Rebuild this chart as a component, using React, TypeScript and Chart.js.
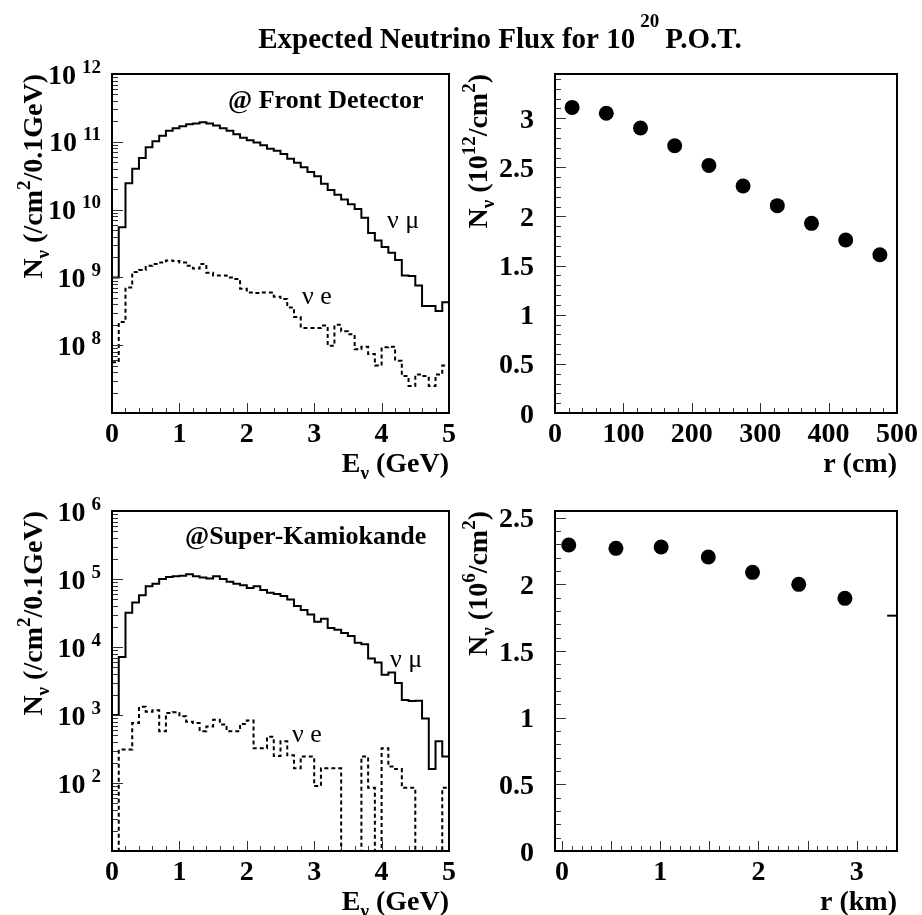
import React, { useEffect, useRef } from "react";
import { Chart, registerables } from "chart.js";

Chart.register(...registerables);

const W = 922;
const H = 915;
const SERIF = '"Liberation Serif", "DejaVu Serif", serif';

// ---------- data ----------
const BIN_WIDTH = 0.1; // GeV
const E_MIN = 0;
const E_MAX = 5;

// Front detector flux per 0.1 GeV bin (/cm^2/0.1GeV)
const FD_NUMU = [
  1.0e9, 5.5e9, 2.45e10, 4.0e10, 5.75e10, 8.3e10, 1.02e11, 1.23e11, 1.45e11, 1.58e11,
  1.7e11, 1.82e11, 1.86e11, 1.95e11, 1.86e11, 1.74e11, 1.58e11, 1.45e11, 1.29e11, 1.15e11,
  1.05e11, 9.8e10, 8.9e10, 7.9e10, 7.4e10, 6.6e10, 5.6e10, 4.9e10, 4.2e10, 3.6e10,
  3.1e10, 2.4e10, 1.95e10, 1.66e10, 1.41e10, 1.2e10, 1.02e10, 7.6e9, 4.5e9, 3.5e9,
  2.8e9, 2.3e9, 1.8e9, 1.07e9, 1.05e9, 7.6e8, 3.8e8, 3.8e8, 3.2e8, 4.3e8,
];
const FD_NUE = [
  5.6e7, 2.2e8, 7.1e8, 1.2e9, 1.29e9, 1.48e9, 1.58e9, 1.66e9, 1.78e9, 1.74e9,
  1.66e9, 1.48e9, 1.35e9, 1.58e9, 1.17e9, 1.07e9, 1.07e9, 1.0e9, 9.5e8, 6.8e8,
  6.0e8, 5.9e8, 6.0e8, 6.0e8, 5.2e8, 4.8e8, 3.6e8, 2.6e8, 1.8e8, 1.8e8,
  1.8e8, 1.95e8, 9.8e7, 2.0e8, 1.6e8, 1.45e8, 8.7e7, 9.5e7, 7.4e7, 5.0e7,
  9.3e7, 9.5e7, 5.9e7, 3.5e7, 2.5e7, 3.7e7, 3.5e7, 2.5e7, 3.7e7, 5.0e7,
];
// Super-Kamiokande flux per 0.1 GeV bin
const SK_NUMU = [
  1000, 7100, 3.2e4, 4.5e4, 5.75e4, 7.8e4, 8.5e4, 1.0e5, 1.07e5, 1.1e5,
  1.12e5, 1.17e5, 1.1e5, 1.05e5, 1.02e5, 1.1e5, 1.0e5, 9.1e4, 8.5e4, 8.1e4,
  7.4e4, 7.8e4, 6.9e4, 6.3e4, 6.0e4, 5.6e4, 5.0e4, 4.0e4, 3.5e4, 3.0e4,
  2.35e4, 2.6e4, 1.9e4, 1.8e4, 1.6e4, 1.45e4, 1.15e4, 1.1e4, 6800, 5900,
  3900, 4200, 2950, 1660, 1600, 1620, 890, 160, 410, 245,
];
const SK_NUE = [
  0, 310, 310, 760, 1320, 1120, 1170, 575, 1070, 1100,
  955, 795, 760, 575, 675, 850, 725, 575, 575, 740,
  830, 325, 325, 480, 250, 410, 255, 165, 245, 245,
  90, 165, 165, 165, 0, 0, 0, 245, 85, 0,
  325, 175, 160, 85, 85, 0, 0, 0, 0, 85,
];

// radial profiles
const FD_R_CM = [25, 75, 125, 175, 225, 275, 325, 375, 425, 475];
const FD_FLUX = [3.11, 3.05, 2.9, 2.72, 2.52, 2.31, 2.11, 1.93, 1.76, 1.61]; // 10^12/cm^2
const SK_R_KM = [0.07, 0.55, 1.01, 1.49, 1.94, 2.41, 2.88];
const SK_FLUX = [2.295, 2.27, 2.28, 2.205, 2.09, 2.0, 1.895]; // 10^6/cm^2
const SK_STRAY_R = [3.31, 3.42];
const SK_STRAY_FLUX = [1.765, 1.765];

// tick labels
const E_TICKS = [0, 1, 2, 3, 4, 5];
const R_CM_TICKS = [0, 100, 200, 300, 400, 500];
const R_KM_TICKS = [0, 1, 2, 3];
const FD_LOG_LABELS = [8, 9, 10, 11, 12];
const SK_LOG_LABELS = [2, 3, 4, 5, 6];
const FD_FLUX_TICKS = [0, 0.5, 1, 1.5, 2, 2.5, 3];
const SK_FLUX_TICKS = [0, 0.5, 1, 1.5, 2, 2.5];

// ---------- helpers ----------
type Part = { t: string; size: number; bold?: boolean; dx?: number; dy?: number };
type TextItem = { parts: Part[]; x: number; y: number; align: "left" | "right" | "center"; angle?: number };

const font = (p: Part) => `${p.bold === false ? "normal" : "bold"} ${p.size}px ${SERIF}`;

function richWidth(ctx: CanvasRenderingContext2D, parts: Part[]) {
  let w = 0;
  for (const p of parts) {
    ctx.font = font(p);
    w += ctx.measureText(p.t).width + (p.dx || 0);
  }
  return w;
}

function drawRich(ctx: CanvasRenderingContext2D, item: TextItem) {
  ctx.save();
  ctx.translate(item.x, item.y);
  if (item.angle) ctx.rotate(item.angle);
  const w = richWidth(ctx, item.parts);
  let cx = item.align === "right" ? -w : item.align === "center" ? -w / 2 : 0;
  ctx.textAlign = "left";
  ctx.textBaseline = "alphabetic";
  ctx.fillStyle = "#000";
  for (const p of item.parts) {
    ctx.font = font(p);
    cx += p.dx || 0;
    ctx.fillText(p.t, cx, p.dy || 0);
    cx += ctx.measureText(p.t).width;
  }
  ctx.restore();
}

function range(a: number, b: number, step: number) {
  const out: number[] = [];
  const n = Math.round((b - a) / step);
  for (let i = 0; i <= n; i++) out.push(+(a + i * step).toFixed(6));
  return out;
}

function logTicks(minExp: number, maxExp: number) {
  const major: number[] = [];
  const minor: number[] = [];
  for (let e = minExp; e <= maxExp; e++) {
    major.push(Math.pow(10, e));
    if (e < maxExp) for (let k = 2; k <= 9; k++) minor.push(k * Math.pow(10, e));
  }
  return { major, minor };
}

function histPoints(values: number[], floor: number) {
  const pts = values.map((v, i) => ({ x: E_MIN + i * BIN_WIDTH, y: v > 0 ? v : floor }));
  const last = values[values.length - 1];
  pts.push({ x: E_MIN + values.length * BIN_WIDTH, y: last > 0 ? last : floor });
  return pts;
}

const TICK_FONT = 28;
const SUP_FONT = 19;

type AxisOpts = {
  xMajor: number[];
  xMinor: number[];
  xLabels: { v: number; text: string }[];
  yMajor: number[];
  yMinor: number[];
  yLabels: { v: number; parts: Part[] }[];
  yLabelRight: number;
  texts: TextItem[];
};

const rootAxes = {
  id: "rootAxes",
  afterDatasetsDraw(chart: any, _args: any, o: AxisOpts) {
    const { ctx, chartArea: a, scales } = chart;
    const xs = scales.x;
    const ys = scales.y;
    ctx.save();
    // inner ticks
    ctx.strokeStyle = "#333";
    ctx.lineWidth = 1;
    ctx.beginPath();
    const xt = (v: number, len: number) => {
      const px = Math.round(xs.getPixelForValue(v)) + 0.5;
      ctx.moveTo(px, a.bottom);
      ctx.lineTo(px, a.bottom - len);
    };
    const yt = (v: number, len: number) => {
      const py = Math.round(ys.getPixelForValue(v)) + 0.5;
      ctx.moveTo(a.left, py);
      ctx.lineTo(a.left + len, py);
    };
    o.xMinor.forEach((v) => xt(v, 5));
    o.xMajor.forEach((v) => xt(v, 10));
    o.yMinor.forEach((v) => yt(v, 6));
    o.yMajor.forEach((v) => yt(v, 11));
    ctx.stroke();
    // frame
    ctx.strokeStyle = "#000";
    ctx.lineWidth = 2;
    ctx.strokeRect(a.left, a.top, a.right - a.left, a.bottom - a.top);
    // x labels
    ctx.fillStyle = "#000";
    ctx.textAlign = "center";
    ctx.textBaseline = "alphabetic";
    ctx.font = `bold ${TICK_FONT}px ${SERIF}`;
    for (const l of o.xLabels) {
      ctx.fillText(l.text, xs.getPixelForValue(l.v), a.bottom + 29);
    }
    // y labels
    for (const l of o.yLabels) {
      drawRich(ctx, { parts: l.parts, x: o.yLabelRight, y: ys.getPixelForValue(l.v) + 9.5, align: "right" });
    }
    for (const t of o.texts) drawRich(ctx, t);
    ctx.restore();
  },
};

type Area = { left: number; top: number; right: number; bottom: number };
type Panel = {
  area: Area;
  xMin: number;
  xMax: number;
  yMin: number;
  yMax: number;
  yLog: boolean;
  datasets: any[];
  axes: AxisOpts;
};

const TL: Area = { left: 112, top: 74, right: 449, bottom: 413 };
const TR: Area = { left: 555, top: 74, right: 897, bottom: 413 };
const BL: Area = { left: 112, top: 511, right: 449, bottom: 851 };
const BR: Area = { left: 555, top: 511, right: 897, bottom: 851 };

const ROT = -Math.PI / 2;

const histDataset = (values: number[], floor: number, dashed: boolean) => ({
  data: histPoints(values, floor),
  stepped: true,
  borderColor: "#000",
  borderWidth: 2,
  borderDash: dashed ? [4, 3] : [],
  pointRadius: 0,
  fill: false,
  tension: 0,
});

const pointDataset = (xs: number[], ys: number[]) => ({
  data: xs.map((x, i) => ({ x, y: ys[i] })),
  showLine: false,
  pointRadius: 7.5,
  pointBackgroundColor: "#000",
  pointBorderColor: "#000",
  pointBorderWidth: 0,
});

const lineDataset = (xs: number[], ys: number[]) => ({
  data: xs.map((x, i) => ({ x, y: ys[i] })),
  borderColor: "#000",
  borderWidth: 2,
  pointRadius: 0,
  fill: false,
});

const logLabel = (e: number) => ({
  v: Math.pow(10, e),
  parts: [
    { t: "10", size: TICK_FONT },
    { t: String(e), size: SUP_FONT, dx: 6, dy: -11 },
  ] as Part[],
});

const numLabel = (v: number) => ({ v, parts: [{ t: String(v), size: TICK_FONT }] as Part[] });

const nuSub = (size = 19): Part => ({ t: "\u03bd", size, dy: 7 });

const yTitleSpectrum: Part[] = [
  { t: "N", size: 28 },
  nuSub(),
  { t: " (/cm", size: 28 },
  { t: "2", size: SUP_FONT, dy: -12 },
  { t: "/0.1GeV)", size: 28 },
];
const xTitleE: Part[] = [{ t: "E", size: 28 }, nuSub(), { t: " (GeV)", size: 28 }];

const fdLog = logTicks(7, 12);
const skLog = logTicks(1, 6);

const PANELS: Panel[] = [
  {
    area: TL,
    xMin: E_MIN,
    xMax: E_MAX,
    yMin: 1e7,
    yMax: 1e12,
    yLog: true,
    datasets: [histDataset(FD_NUMU, 1e3, false), histDataset(FD_NUE, 1e3, true)],
    axes: {
      xMajor: E_TICKS,
      xMinor: range(E_MIN, E_MAX, 0.2),
      xLabels: E_TICKS.map((v) => ({ v, text: String(v) })),
      yMajor: fdLog.major,
      yMinor: fdLog.minor,
      yLabels: FD_LOG_LABELS.map(logLabel),
      yLabelRight: 101,
      texts: [
        {
          parts: [
            { t: "Expected Neutrino Flux for 10", size: 29 },
            { t: "20", size: 19, dx: 5, dy: -21 },
            { t: "P.O.T.", size: 29, dx: 6 },
          ],
          x: 500,
          y: 48,
          align: "center",
        },
        { parts: yTitleSpectrum, x: 42, y: TL.top, align: "right", angle: ROT },
        { parts: xTitleE, x: TL.right, y: TL.bottom + 59, align: "right" },
        { parts: [{ t: "@ Front Detector", size: 26 }], x: 228, y: 108, align: "left" },
        { parts: [{ t: "\u03bd \u03bc", size: 26, bold: false }], x: 387, y: 228, align: "left" },
        { parts: [{ t: "\u03bd e", size: 26, bold: false }], x: 302, y: 304, align: "left" },
      ],
    },
  },
  {
    area: TR,
    xMin: 0,
    xMax: 500,
    yMin: 0,
    yMax: 3.45,
    yLog: false,
    datasets: [pointDataset(FD_R_CM, FD_FLUX)],
    axes: {
      xMajor: R_CM_TICKS,
      xMinor: range(0, 500, 20),
      xLabels: R_CM_TICKS.map((v) => ({ v, text: String(v) })),
      yMajor: FD_FLUX_TICKS,
      yMinor: range(0, 3.4, 0.1),
      yLabels: FD_FLUX_TICKS.map(numLabel),
      yLabelRight: 534,
      texts: [
        {
          parts: [
            { t: "N", size: 28 },
            nuSub(),
            { t: " (10", size: 28 },
            { t: "12", size: SUP_FONT, dy: -12 },
            { t: "/cm", size: 28 },
            { t: "2", size: SUP_FONT, dy: -12 },
            { t: ")", size: 28 },
          ],
          x: 487,
          y: TR.top,
          align: "right",
          angle: ROT,
        },
        { parts: [{ t: "r (cm)", size: 28 }], x: TR.right, y: TR.bottom + 59, align: "right" },
      ],
    },
  },
  {
    area: BL,
    xMin: E_MIN,
    xMax: E_MAX,
    yMin: 10,
    yMax: 1e6,
    yLog: true,
    datasets: [histDataset(SK_NUMU, 1e-2, false), histDataset(SK_NUE, 1e-2, true)],
    axes: {
      xMajor: E_TICKS,
      xMinor: range(E_MIN, E_MAX, 0.2),
      xLabels: E_TICKS.map((v) => ({ v, text: String(v) })),
      yMajor: skLog.major,
      yMinor: skLog.minor,
      yLabels: SK_LOG_LABELS.map(logLabel),
      yLabelRight: 101,
      texts: [
        { parts: yTitleSpectrum, x: 42, y: BL.top, align: "right", angle: ROT },
        { parts: xTitleE, x: BL.right, y: BL.bottom + 59, align: "right" },
        { parts: [{ t: "@Super-Kamiokande", size: 26 }], x: 185, y: 544, align: "left" },
        { parts: [{ t: "\u03bd \u03bc", size: 26, bold: false }], x: 390, y: 667, align: "left" },
        { parts: [{ t: "\u03bd e", size: 26, bold: false }], x: 292, y: 742, align: "left" },
      ],
    },
  },
  {
    area: BR,
    xMin: -0.07,
    xMax: 3.41,
    yMin: 0,
    yMax: 2.55,
    yLog: false,
    datasets: [pointDataset(SK_R_KM, SK_FLUX), lineDataset(SK_STRAY_R, SK_STRAY_FLUX)],
    axes: {
      xMajor: range(0, 3, 0.5),
      xMinor: range(0, 3.4, 0.1),
      xLabels: R_KM_TICKS.map((v) => ({ v, text: String(v) })),
      yMajor: SK_FLUX_TICKS,
      yMinor: range(0, 2.5, 0.1),
      yLabels: SK_FLUX_TICKS.map(numLabel),
      yLabelRight: 534,
      texts: [
        {
          parts: [
            { t: "N", size: 28 },
            nuSub(),
            { t: " (10", size: 28 },
            { t: "6", size: SUP_FONT, dy: -12 },
            { t: "/cm", size: 28 },
            { t: "2", size: SUP_FONT, dy: -12 },
            { t: ")", size: 28 },
          ],
          x: 487,
          y: BR.top,
          align: "right",
          angle: ROT,
        },
        { parts: [{ t: "r (km)", size: 28 }], x: BR.right, y: BR.bottom + 59, align: "right" },
      ],
    },
  },
];

function buildConfig(p: Panel): any {
  return {
    type: "line",
    data: { datasets: p.datasets },
    options: {
      responsive: false,
      animation: false,
      devicePixelRatio: 1,
      events: [],
      layout: {
        padding: { left: p.area.left, top: p.area.top, right: W - p.area.right, bottom: H - p.area.bottom },
      },
      scales: {
        x: { type: "linear", display: false, min: p.xMin, max: p.xMax },
        y: { type: p.yLog ? "logarithmic" : "linear", display: false, min: p.yMin, max: p.yMax },
      },
      plugins: {
        legend: { display: false },
        tooltip: { enabled: false },
        title: { display: false },
        rootAxes: p.axes,
      },
    },
    plugins: [rootAxes],
  };
}

export default function App() {
  const canvases = useRef<(HTMLCanvasElement | null)[]>([]);
  useEffect(() => {
    const charts = PANELS.map((p, i) => new Chart(canvases.current[i] as HTMLCanvasElement, buildConfig(p)));
    return () => charts.forEach((c) => c.destroy());
  }, []);
  return (
    <div style={{ position: "absolute", left: 0, top: 0, width: W, height: H, background: "#fff" }}>
      {PANELS.map((_, i) => (
        <canvas
          key={i}
          ref={(el) => {
            canvases.current[i] = el;
          }}
          width={W}
          height={H}
          style={{ position: "absolute", left: 0, top: 0, width: W, height: H }}
        />
      ))}
    </div>
  );
}
